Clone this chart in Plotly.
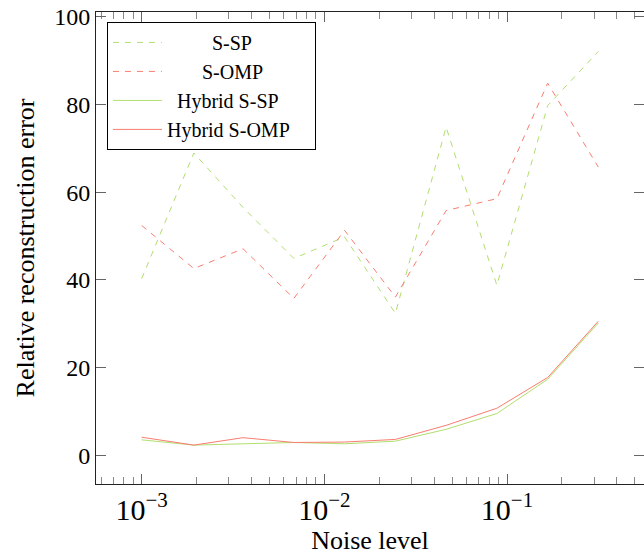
import plotly.graph_objects as go

noise = [1.0e-3, 1.93e-3, 3.59e-3, 6.81e-3, 1.29e-2, 2.45e-2, 4.64e-2, 8.80e-2, 0.167, 0.316]
s_sp = [40.3, 68.9, 56.5, 44.9, 49.8, 32.4, 74.8, 38.8, 79.7, 92.0]
s_omp = [52.4, 42.6, 47.1, 35.8, 51.3, 36.1, 55.8, 58.5, 84.8, 65.7]
hyb_sp = [3.6, 2.4, 2.7, 3.0, 2.7, 3.3, 6.0, 9.6, 17.4, 30.2]
hyb_omp = [4.2, 2.4, 4.1, 3.0, 3.1, 3.7, 6.9, 10.8, 17.8, 30.6]

GREEN = "rgb(178,222,110)"
RED = "rgb(250,125,112)"
NB = "\u00a0"
FONT = "Liberation Serif, Times New Roman, serif"

fig = go.Figure()
fig.add_trace(go.Scatter(x=noise, y=s_sp, mode="lines", name=NB * 9 + "S-SP",
                         line=dict(color=GREEN, width=1, dash="6px,6px")))
fig.add_trace(go.Scatter(x=noise, y=s_omp, mode="lines", name=NB * 7 + "S-OMP",
                         line=dict(color=RED, width=1, dash="6px,6px")))
fig.add_trace(go.Scatter(x=noise, y=hyb_sp, mode="lines", name=NB * 2 + "Hybrid S-SP",
                         line=dict(color=GREEN, width=1)))
fig.add_trace(go.Scatter(x=noise, y=hyb_omp, mode="lines", name="Hybrid S-OMP" + NB * 4,
                         line=dict(color=RED, width=1)))

fig.update_layout(
    width=644, height=555,
    margin=dict(l=96, r=0, t=12, b=71),
    plot_bgcolor="white", paper_bgcolor="white",
    font=dict(family=FONT, color="black", size=22),
    legend=dict(x=0.02, y=0.979, xanchor="left", yanchor="top",
                bordercolor="black", borderwidth=1, bgcolor="white",
                itemwidth=49,
                font=dict(family=FONT, size=20)),
    xaxis=dict(type="log", range=[-3.25, -0.25], tickmode="linear", tick0=0, dtick=1,
               exponentformat="power", showgrid=False, zeroline=False,
               showline=True, linecolor="#222", linewidth=1, mirror="ticks",
               ticks="inside", ticklen=10, tickcolor="#666", tickwidth=1,
               tickfont=dict(size=24, family=FONT),
               minor=dict(dtick="D1", ticks="inside", ticklen=7, tickcolor="#888", showgrid=False),
               title=dict(text="Noise level", font=dict(size=26, family=FONT), standoff=6)),
    yaxis=dict(range=[-6.45, 101.0], tickmode="array", tickvals=[0, 20, 40, 60, 80, 100],
               showgrid=False, zeroline=False,
               showline=True, linecolor="#222", linewidth=1, mirror="ticks",
               ticks="inside", ticklen=10, tickcolor="#666", tickwidth=1,
               tickfont=dict(size=24, family=FONT),
               title=dict(text="Relative reconstruction error", font=dict(size=26, family=FONT), standoff=12)),
)

fig.write_html("out.html")
